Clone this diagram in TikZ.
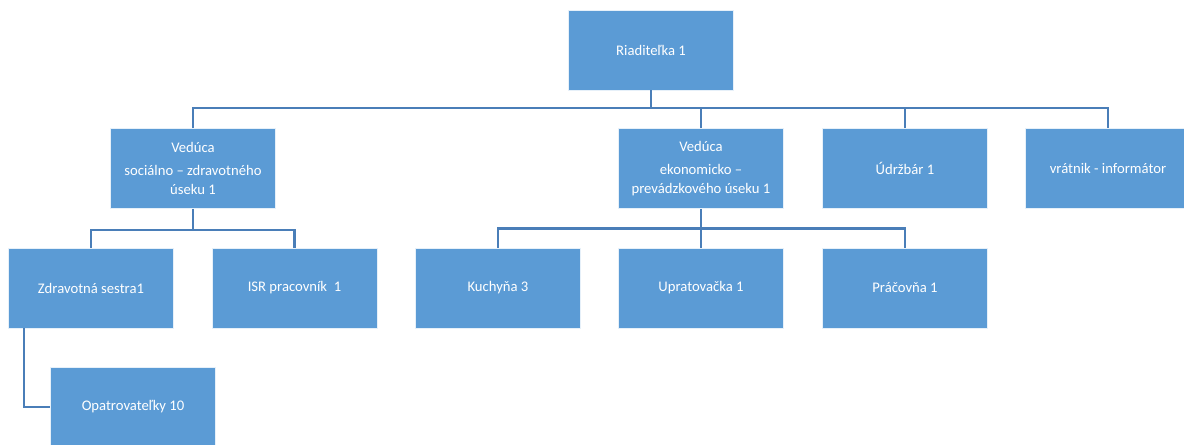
\documentclass[tikz,border=0pt]{standalone}
\usepackage{fontspec}
\setmainfont{Carlito}
\usepackage{tikz}

\definecolor{boxblue}{HTML}{5B9BD5}
\definecolor{lineblue}{HTML}{4A7EB8}

\tikzset{
	unit/.style={draw=white!85!boxblue, line width=0.6pt, fill=boxblue, text=white,
		minimum width=123.75pt, minimum height=60pt, inner sep=2pt, align=center,
		font=\fontsize{11}{14}\selectfont},
	link/.style={draw=lineblue, line width=2.2pt}
}

\begin{document}
\begin{tikzpicture}[x=0.75pt,y=-0.75pt]
	
	\useasboundingbox (0,0) rectangle (1184,444);
	
	\node[unit] (root) at (651,50) {Riaditeľka 1};
	
	\node[unit] (vsoc) at (193,168.5) {Vedúca\\[3pt] sociálno -- zdravotného\\ úseku 1};
	\node[unit] (vek) at (701,168.5) {Vedúca\\[3pt] ekonomicko --\\ prevádzkového úseku 1};
	\node[unit] (udrz) at (905,168.5) {Údržbár 1};
	\node[unit] (vrat) at (1108,168.5) {vrátnik - informátor};
	
	\node[unit] (zdrav) at (91,288) {Zdravotná sestra1};
	\node[unit] (isr) at (294.5,288) {ISR pracovník\ \ 1};
	\node[unit] (kuch) at (498,288) {Kuchyňa 3};
	\node[unit] (uprat) at (701,288) {Upratovačka 1};
	\node[unit] (prac) at (905,288) {Práčovňa 1};
	
	\node[unit] (opat) at (133,407) {Opatrovateľky 10};
	
	\coordinate (bus1) at (651,108);
	\coordinate (bus2) at (193,230);
	\coordinate (bus3) at (701,228.5);
	
	% riaditelka
	\draw[link] (root.south) -- (root.south |- bus1);
	\draw[link] (vsoc.north) -- (vsoc.north |- bus1) -- (vrat.north |- bus1) -- (vrat.north);
	\draw[link] (vek.north) -- (vek.north |- bus1);
	\draw[link] (udrz.north) -- (udrz.north |- bus1);
	
	% socialny usek
	\draw[link] (vsoc.south) -- (vsoc.south |- bus2);
	\draw[link] (zdrav.north) -- (zdrav.north |- bus2) -- (isr.north |- bus2) -- (isr.north);
	
	% ekonomicky usek
	\draw[link] (vek.south) -- (vek.south |- bus3);
	\draw[link] (kuch.north) -- (kuch.north |- bus3) -- (prac.north |- bus3) -- (prac.north);
	\draw[link] (uprat.north) -- (uprat.north |- bus3);
	
	\coordinate (zd) at (24,328);
	\draw[link] (zd) |- (opat.west);
	
\end{tikzpicture}
\end{document}
